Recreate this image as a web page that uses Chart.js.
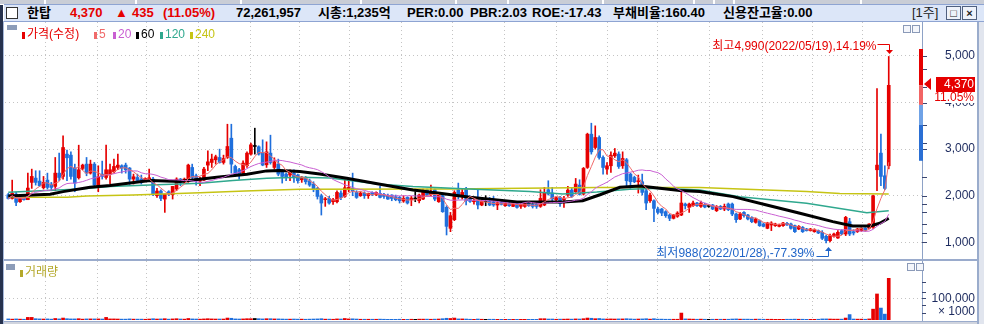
<!DOCTYPE html>
<html lang="ko">
<head>
<meta charset="utf-8">
<title>한탑 주봉</title>
<script src="https://cdn.jsdelivr.net/npm/chart.js@4.4.1/dist/chart.umd.min.js"></script>
<style>
  html, body { margin: 0; padding: 0; }
  body { width: 984px; height: 324px; overflow: hidden; position: relative; background: #fff;
         font-family: 'Liberation Sans', 'Noto Sans CJK KR', sans-serif; }
  .abs { position: absolute; }
  #tabs { left: 0; top: 0; width: 984px; height: 4px; background: #c9cdd6; }
  .gap { position: absolute; top: 0; width: 2px; height: 4px; background: #fff; }
  #hdr { left: 4px; top: 4px; width: 980px; height: 16px; background: #dce6f8;
         border-top: 1px solid #8ea4d2; border-bottom: 1px solid #8ea4d2; z-index: 3; }
  .h { position: absolute; top: 0; font-size: 13px; font-weight: bold; line-height: 16px; white-space: nowrap; color: #000; }
  .red { color: #e60000; }
  .btn { position: absolute; top: 1px; width: 13px; height: 12px; border: 1px solid #50607e; background: #eef2fa;
         font-size: 11px; line-height: 12px; text-align: center; font-weight: bold; color: #222; }
  .leg { position: absolute; font-size: 12px; line-height: 14px; white-space: nowrap; z-index: 3; }
  .mk { display: inline-block; width: 3px; height: 7px; margin-right: 2px; vertical-align: -1px; }
  .mini { position: absolute; width: 6px; height: 6px; border: 1px solid #8b9ab8; background: #f4f6fb; z-index: 3; }
  canvas { position: absolute; left: 0; z-index: 1; }
  .line { position: absolute; z-index: 2; }
</style>
</head>
<body>
<div id="tabs" class="abs"></div>
<div id="hdr" class="abs">
  <div class="abs" style="left:2px;top:2px;width:10px;height:10px;background:#fff;border:1px solid #333;"></div>
  <span class="h" style="left:23px;">한탑</span>
  <span class="h red" style="left:66px;">4,370</span>
  <span class="h red" style="left:111px;">▲</span>
  <span class="h red" style="left:128px;">435</span>
  <span class="h red" style="left:159px;">(11.05%)</span>
  <span class="h" style="left:232px;">72,261,957</span>
  <span class="h" style="left:314px;">시총:1,235억</span>
  <span class="h" style="left:403px;">PER:0.00</span>
  <span class="h" style="left:466px;">PBR:2.03</span>
  <span class="h" style="left:528px;">ROE:-17.43</span>
  <span class="h" style="left:609px;">부채비율:160.40</span>
  <span class="h" style="left:719px;">신용잔고율:0.00</span>
  <span class="h" style="left:908px;font-weight:normal;color:#222;">[1주]</span>
  <div class="btn" style="left:942px;">□</div>
  <div class="btn" style="left:958px;">×</div>
</div>

<div class="line" style="left:0;top:5px;width:3px;height:319px;background:#26324e;"></div>
<div class="line" style="left:3px;top:21px;width:1px;height:303px;background:#a6b8da;"></div>
<div class="line" style="left:977px;top:21px;width:2px;height:303px;background:#9aaccc;"></div>
<div class="line" style="left:979px;top:21px;width:5px;height:303px;background:#e1e5ee;"></div>
<div class="line" style="left:4px;top:259px;width:973px;height:2px;background:#9aabcc;"></div>
<div class="line" style="left:4px;top:321px;width:973px;height:1px;background:#9aabcc;"></div>
<div class="line" style="left:4px;top:322px;width:973px;height:2px;background:#d0d4de;"></div>

<div class="line" style="left:7px;top:25px;width:10px;height:5px;background:#8c9cb8;"></div>
<div class="leg" style="left:22px;top:27px;color:#e60000;"><span class="mk" style="background:#e60000"></span>가격(수정)</div>
<div class="leg" style="left:94px;top:27px;color:#f06a6a;"><span class="mk" style="background:#f06a6a"></span>5</div>
<div class="leg" style="left:113px;top:27px;color:#c95fd2;"><span class="mk" style="background:#c95fd2"></span>20</div>
<div class="leg" style="left:136px;top:27px;color:#000;"><span class="mk" style="background:#000"></span>60</div>
<div class="leg" style="left:160px;top:27px;color:#2fa88e;"><span class="mk" style="background:#2fa88e"></span>120</div>
<div class="leg" style="left:190px;top:27px;color:#c6c414;"><span class="mk" style="background:#c6c414"></span>240</div>
<div class="mini" style="left:903px;top:25px;"></div>
<div class="mini" style="left:912px;top:25px;"></div>

<div class="line" style="left:6px;top:264px;width:9px;height:6px;background:#8c9cb8;"></div>
<div class="leg" style="left:20px;top:265px;color:#b4a82a;"><span class="mk" style="background:#b4a82a"></span>거래량</div>
<div class="mini" style="left:907px;top:263px;"></div>
<div class="mini" style="left:916px;top:263px;"></div>

<canvas id="price" width="984" height="317" style="top:-18px;"></canvas>
<canvas id="vol" width="984" height="99" style="top:241px;"></canvas>

<script>
// 주봉 시가/고가/저가/종가 (원)
const open = [2021,1942,2035,1871,1957,1914,2286,2378,2314,2171,2335,2250,2200,2485,2414,2893,2871,2593,2385,2586,
  2678,2485,2678,2214,2464,2392,2464,2514,2607,2643,2657,2593,2357,2392,2357,2321,2342,2357,2000,2100,
  1928,2085,2021,2143,2357,2286,2321,2607,2428,2314,2335,2657,2714,2771,2821,2714,2821,3235,2628,2557,
  2485,2643,2893,3057,3050,2928,2664,2914,2607,2678,2514,2464,2443,2485,2443,2342,2371,2321,2250,2157,
  2000,1914,1942,1871,1871,2057,1985,2128,2157,2071,2000,2057,2000,2071,2021,2050,2028,2007,2014,1978,
  1964,1885,1964,1914,1928,1892,1928,2128,2021,2128,1871,2000,1750,1300,1485,2128,1985,2143,1942,1871,
  1928,1800,1871,1892,1871,1800,1871,1785,1843,1771,1843,1771,1771,1843,1814,1821,1771,1800,2128,2057,
  1914,1964,1914,2014,2121,2085,2228,2035,2607,3321,3035,3250,2821,2571,2643,2857,2893,2643,2771,2464,
  2392,2300,2300,2107,1892,1892,1714,1714,1657,1585,1514,1557,1585,1821,1750,1785,1843,1771,1814,1771,
  1800,1678,1771,1714,1821,1821,1607,1500,1642,1585,1535,1428,1464,1393,1300,1371,1357,1342,1357,1407,
  1393,1357,1285,1321,1285,1250,1228,1250,1214,1128,1035,1128,1092,1250,1178,1442,1228,1228,1250,1300,
  1300,1321,2557,2914,2428,2643];
const high = [2050,2335,2071,1970,1965,2485,2571,2536,2536,2414,2485,2286,2821,2914,3286,2978,2942,2678,3085,2678,
  2821,2764,2714,2643,2743,3085,2678,2786,2893,2664,2700,2607,2464,2464,2443,2385,2571,2392,2157,2128,
  2035,2107,2200,2385,2371,2380,2678,2678,2464,2392,2607,2964,2893,2871,3000,2871,3535,3535,2657,2586,
  2750,2942,3128,3450,3071,3200,3157,3300,2814,2786,2557,2485,2557,2557,2464,2414,2414,2357,2300,2178,
  2035,1964,1985,1942,2107,2107,2392,2371,2485,2107,2085,2085,2057,2085,2085,2200,2050,2035,2021,2014,
  1985,2000,1978,1985,2085,2035,2143,2143,2228,2143,2035,2057,1785,1642,2107,2271,2143,2178,2000,1942,
  2157,1914,2000,1964,1985,1871,1914,1892,1857,1843,1871,1843,1871,1871,1843,1843,2128,2178,2321,2178,
  1970,1985,1985,2200,2157,2371,2342,2607,3343,3557,3500,3286,2857,2714,2942,3014,2942,2942,2800,2485,
  2420,2443,2464,2143,2057,1914,1750,1728,1678,1607,1600,1657,2128,1843,1843,1885,1857,1885,1840,1800,
  1814,1790,1790,1821,1843,1843,1628,1642,1660,1600,1550,1520,1480,1410,1430,1442,1410,1390,1430,1430,
  1410,1370,1360,1340,1300,1300,1290,1265,1250,1157,1178,1200,1250,1270,1557,1514,1271,1300,1314,1314,
  1400,2014,4300,3321,2643,4990];
const low = [1928,1928,1785,1857,1905,1914,2157,2228,2200,2143,2143,2107,2107,2321,2357,2321,2357,2085,2357,2557,
  2428,2464,2200,2085,2357,2357,2250,2485,2557,2485,2485,2242,2250,2286,2250,2300,2321,2000,1964,1892,
  1642,2000,1928,2107,2214,2270,2286,2357,2228,2214,2321,2536,2607,2678,2700,2678,2800,2485,2414,2357,
  2443,2607,2871,2893,2871,2643,2607,2678,2571,2428,2271,2321,2321,2286,2271,2286,2250,2200,2085,1928,
  1585,1771,1821,1814,1843,1914,1964,2085,2000,1942,1985,1942,1942,2000,2000,1950,1942,1920,1892,1892,
  1843,1857,1821,1785,1871,1843,1914,1985,2000,1892,1857,1642,1157,1228,1464,1928,1928,1800,1857,1821,
  1714,1785,1785,1785,1771,1700,1800,1771,1771,1764,1735,1728,1750,1771,1735,1728,1750,1785,2014,1892,
  1892,1771,1750,1985,1964,2071,2014,2014,2586,2893,3000,2786,2464,2464,2500,2821,2586,2586,2214,2157,
  2280,2057,2014,1700,1857,1442,1607,1571,1535,1464,1500,1535,1571,1714,1642,1771,1771,1750,1740,1750,
  1700,1660,1700,1678,1678,1571,1428,1485,1540,1480,1420,1410,1340,1330,1290,1250,1340,1330,1340,1360,
  1280,1210,1270,1210,1240,1240,1215,1185,1057,988,1010,1110,1085,1165,1143,1143,1157,1210,1235,1240,
  1285,1300,2107,2214,2128,2577];
const close = [1942,2050,1857,1957,1914,2164,2414,2286,2214,2286,2178,2178,2485,2392,3035,2814,2414,2271,2557,2657,
  2485,2678,2228,2407,2414,2557,2557,2628,2657,2593,2557,2357,2407,2328,2300,2371,2385,2021,2100,1942,
  2035,2035,2200,2357,2286,2357,2657,2392,2321,2371,2571,2728,2786,2836,2714,2800,3057,2678,2464,2443,
  2700,2914,3093,3057,2893,2657,2942,2714,2728,2464,2414,2392,2514,2385,2321,2371,2300,2228,2128,1985,
  1843,1928,1843,1914,2071,1964,2171,2178,2107,1964,2057,2000,2050,2021,2071,1964,1985,1928,1942,1914,
  1892,1942,1843,1950,1928,2014,2085,2014,2085,1928,2014,1657,1342,1571,2071,2000,2071,1892,1878,1892,
  1800,1885,1871,1800,1800,1850,1814,1857,1785,1828,1750,1821,1835,1785,1771,1771,1942,2071,2035,1928,
  1957,1835,1942,2121,1985,2250,2028,2586,3321,2942,3250,2821,2607,2643,2871,2914,2628,2800,2321,2300,
  2300,2314,2071,1843,2014,1728,1642,1628,1571,1514,1585,1628,1843,1785,1821,1843,1785,1843,1757,1771,
  1714,1771,1714,1771,1700,1607,1485,1607,1571,1500,1442,1500,1357,1342,1414,1414,1393,1371,1414,1371,
  1300,1228,1342,1228,1250,1285,1271,1200,1085,1035,1143,1178,1214,1178,1535,1178,1200,1285,1300,1250,
  1393,2000,2657,2414,2157,4370];
// 거래량 (천주)
const volume = [5000,4000,5000,4000,3500,12000,12000,6000,5000,4500,
  5000,4000,7000,5000,9000,6000,5000,5000,6000,4000,
  5000,5000,5000,5000,4500,12000,5000,5000,4500,4000,
  4000,5000,4000,4000,4000,3500,4500,6000,4500,5000,
  6000,4000,5000,6000,4500,4000,7000,5000,4500,4000,
  5000,6000,5000,4500,4500,4500,9000,8000,5000,4500,
  5000,6000,6000,7000,6000,5000,6000,6000,5000,5000,
  4500,4000,4000,4500,4000,4000,3500,4000,4500,5000,
  6000,4000,4000,3500,5000,4500,7000,5000,5500,4500,
  3500,3500,3500,3500,3500,4000,3500,3000,3000,3000,
  3500,3000,3000,3500,3000,4000,4000,4000,3500,4000,
  4500,6000,8000,7000,9000,5000,5000,4500,3500,3000,
  4500,3500,3000,3500,3500,3000,3000,3000,3000,3000,
  3000,3000,3000,3000,3000,3000,6000,6000,4500,4500,
  3500,4000,4000,4500,4000,5000,4500,6000,9000,8000,
  6000,7000,5000,4500,5000,4500,5000,5000,6000,5000,
  4000,4500,5000,6000,4000,6000,4000,4000,3500,3500,
  3500,3500,32000,5000,4500,4000,3500,4000,3500,3000,
  3500,3500,3500,3500,3500,4500,5000,4000,4000,4000,
  3500,4000,4000,3500,3500,3500,3000,3000,3000,3500,
  3500,4000,3500,3500,3000,3000,3000,3500,5000,5000,
  4500,4000,4000,4000,9000,25000,4500,4000,4000,3500,
  5000,50000,120000,55000,27000,192000];

// 장기 이동평균 (그림에서 읽은 값, 봉 번호 기준)
const ma60At = [0,10.7,14,20.9,26,36.2,43.9,53.3,61,66,69.4,74.5,79.6,86.5,95,103.4,110.3,118,124.9,130,141.7,146.8,151.2,156.3,161.4,166.5,171.6,176.7,185.2,193.8,202.3,210.7,215.8,220.2,222.7,225];
const ma60 = [1995,2032,2088,2182,2217,2324,2303,2398,2462,2533,2540,2518,2468,2376,2247,2124,2053,1967,1909,1866,1866,1894,2020,2180,2210,2161,2110,2088,1980,1802,1623,1443,1350,1350,1408,1516];
const ma120At = [0,18.3,26,36.2,49,57.4,66.1,74.5,82.2,95,103.4,116.2,133.3,141.7,150.4,158.8,166.5,176.7,186.9,204,219.4,225];
const ma120 = [2075,2146,2196,2232,2268,2324,2376,2398,2380,2247,2196,2152,2088,2039,2081,2140,2160,2124,1980,1838,1636,1679];
const ma240At = [0,15,20.1,31.9,49,60.5,74.5,112.8,150.4,176.7,193.8,204,212.5,225];
const ma240 = [1967,1967,1995,2017,2066,2103,2140,2145,2175,2174,2124,2088,2045,2035];

// 분기 구분선 위치 (봉 번호)
const gridAt = [9.4,22.7,35.4,48.5,61.8,74.5,87.3,100.6,113.6,126.9,140.2,153.2,165.9,179.3,192.8,205.6,218.4];
const priceTicks = [1000,2000,3000,4000,5000];
const priceMinor = [1210,1400,1640,1820,2400,3140,3520,4330,4720];
const volTicks = [100000];
const volMinor = [30000,70000,130000,175000];

// 가격대별 막대 (원)
const bandEdges = [5150,4370,3950,3520,2750];
const bandColors = ['#e60000','#f26464','#6fa2e6','#2a6fd4'];

const changePct = '11.05%';
const hiDate = '2022/05/19', hiPct = '14.19%';
const loDate = '2022/01/28', loPct = '-77.39%';

const RED = '#e60000', BLUE = '#1f6fdc';
const candleColor = close.map((c, i) => c > open[i] ? RED : (c < open[i] ? BLUE : '#000'));

function movingAvg(n) {
  return close.map((_, i) => {
    const s = close.slice(Math.max(0, i - n + 1), i + 1);
    return { x: i, y: s.reduce((a, b) => a + b, 0) / s.length };
  });
}
const pts = (at, vals) => at.map((x, i) => ({ x: x, y: vals[i] }));
const maLine = (data, color, w) => ({ type: 'line', data: data, borderColor: color, borderWidth: w,
  pointRadius: 0, tension: 0, order: 0 });

const X_MIN = -0.84, X_MAX = 233.5;
const gridColor = '#c4c4c4';
const axisFont = { family: "'Liberation Sans'", size: 12 };

// 두 차트가 같은 객체를 공유하지 않도록 매번 새로 만든다
const makeXAxis = () => ({
  type: 'linear', min: X_MIN, max: X_MAX, offset: false,
  afterBuildTicks: s => { s.ticks = gridAt.map(v => ({ value: v })); },
  afterFit: s => { s.height = 0; },
  ticks: { display: false },
  grid: { color: gridColor, drawTicks: false, offset: false },
  border: { display: false, dash: [1, 3] }
});

const priceExtras = {
  id: 'priceExtras',
  afterDraw(chart) {
    const { ctx, chartArea: a, scales: { x, y } } = chart;
    ctx.save();
    // 오른쪽 보조 눈금
    ctx.strokeStyle = '#3a4670';
    ctx.lineWidth = 1;
    priceTicks.concat(priceMinor).forEach(v => {
      const py = Math.round(y.getPixelForValue(v)) + 0.5;
      ctx.beginPath(); ctx.moveTo(a.right, py); ctx.lineTo(a.right + 5, py); ctx.stroke();
    });
    // 가격대 막대
    for (let i = 0; i < bandColors.length; i++) {
      const y0 = y.getPixelForValue(bandEdges[i]);
      const y1 = y.getPixelForValue(bandEdges[i + 1]);
      ctx.fillStyle = bandColors[i];
      ctx.fillRect(a.right - 3, y0, 4, y1 - y0);
    }
    // 현재가 꼬리표
    const last = close.length - 1;
    const cy = Math.round(y.getPixelForValue(close[last])) - 1;
    ctx.fillStyle = RED;
    ctx.beginPath();
    ctx.moveTo(a.right + 2, cy); ctx.lineTo(a.right + 9, cy - 6); ctx.lineTo(a.right + 9, cy + 6);
    ctx.closePath(); ctx.fill();
    ctx.fillRect(a.right + 14, cy - 7, 39, 15);
    ctx.fillStyle = '#fff';
    ctx.fillRect(a.right + 14, cy + 8, 39, 11);
    ctx.font = "12px 'Liberation Sans'";
    ctx.textAlign = 'right';
    ctx.textBaseline = 'middle';
    ctx.fillText(close[last].toLocaleString('en-US'), a.right + 52, cy + 1);
    ctx.fillStyle = RED;
    ctx.fillText(changePct, a.right + 52, cy + 14);

    // 최고 / 최저 표시
    ctx.font = "12px 'Liberation Sans', 'Noto Sans CJK KR'";
    const hi = high.indexOf(Math.max(...high));
    const hx = Math.round(x.getPixelForValue(hi)) + 0.5;
    const hy = Math.round(y.getPixelForValue(high[hi]));
    ctx.strokeStyle = RED; ctx.fillStyle = RED;
    ctx.beginPath(); ctx.moveTo(hx - 12, hy - 11.5); ctx.lineTo(hx, hy - 11.5); ctx.lineTo(hx, hy - 5); ctx.stroke();
    ctx.beginPath(); ctx.moveTo(hx - 3.5, hy - 6); ctx.lineTo(hx + 3.5, hy - 6); ctx.lineTo(hx, hy - 2); ctx.closePath(); ctx.fill();
    ctx.fillText('최고' + high[hi].toLocaleString('en-US') + '(' + hiDate + '),' + hiPct, hx - 13, hy - 9);

    const lo = low.indexOf(Math.min(...low));
    const lx = Math.round(x.getPixelForValue(lo)) + 2.5;
    const ly = Math.round(y.getPixelForValue(low[lo]));
    ctx.strokeStyle = '#1f64c8'; ctx.fillStyle = '#1f64c8';
    ctx.beginPath(); ctx.moveTo(lx - 12, ly + 13.5); ctx.lineTo(lx, ly + 13.5); ctx.lineTo(lx, ly + 7); ctx.stroke();
    ctx.beginPath(); ctx.moveTo(lx - 3.5, ly + 8); ctx.lineTo(lx + 3.5, ly + 8); ctx.lineTo(lx, ly + 4); ctx.closePath(); ctx.fill();
    ctx.fillText('최저' + low[lo].toLocaleString('en-US') + '(' + loDate + '),' + loPct, lx - 14, ly + 10.5);
    ctx.restore();
  }
};

// 눈금 글자 여백이 그림 영역을 밀어내지 않도록 바깥 여백을 넉넉히 준다 (캔버스를 그만큼 위로 올림)
new Chart(document.getElementById('price'), {
  type: 'bar',
  data: {
    datasets: [
      maLine(movingAvg(5), '#f06a6a', 1),
      maLine(movingAvg(20), '#c95fd2', 1),
      maLine(pts(ma60At, ma60), '#000', 3),
      maLine(pts(ma120At, ma120), '#2fa88e', 1.5),
      maLine(pts(ma240At, ma240), '#c6c414', 1.5),
      { type: 'bar', order: 1, grouped: false, barThickness: 3, minBarLength: 1,
        data: close.map((c, i) => ({ x: i, y: [Math.min(open[i], c), Math.max(open[i], c)] })),
        backgroundColor: candleColor },
      { type: 'bar', order: 2, grouped: false, barThickness: 1,
        data: close.map((c, i) => ({ x: i, y: [low[i], high[i]] })),
        backgroundColor: candleColor }
    ]
  },
  options: {
    responsive: false, animation: false, devicePixelRatio: 1,
    layout: { padding: { left: 5, right: 9, top: 40, bottom: 40 } },
    plugins: { legend: { display: false }, tooltip: { enabled: false } },
    scales: {
      x: makeXAxis(),
      y: {
        position: 'right', min: 641, max: 5730,
        afterBuildTicks: s => { s.ticks = priceTicks.map(v => ({ value: v })); },
        afterFit: s => { s.width = 53; },
        ticks: { crossAlign: 'far', padding: 22, color: '#1c2a5e', font: axisFont,
                 callback: v => v.toLocaleString('en-US') },
        grid: { color: gridColor, drawTicks: false },
        border: { color: '#8ea2c6', width: 1, dash: [1, 3] }
      }
    }
  },
  plugins: [priceExtras]
});

const volExtras = {
  id: 'volExtras',
  afterDraw(chart) {
    const { ctx, chartArea: a, scales: { y } } = chart;
    ctx.save();
    ctx.strokeStyle = '#3a4670';
    ctx.lineWidth = 1;
    volTicks.concat(volMinor).forEach(v => {
      const py = Math.round(y.getPixelForValue(v)) + 0.5;
      ctx.beginPath(); ctx.moveTo(a.right, py); ctx.lineTo(a.right + 4, py); ctx.stroke();
    });
    ctx.font = "12px 'Liberation Sans'";
    ctx.fillStyle = '#1c2a5e';
    ctx.textAlign = 'right';
    ctx.textBaseline = 'middle';
    ctx.fillText('× 1000', a.right + 53, y.getPixelForValue(volTicks[0]) + 13);
    ctx.restore();
  }
};

new Chart(document.getElementById('vol'), {
  type: 'bar',
  data: {
    datasets: [{
      data: volume.map((v, i) => ({ x: i, y: v })),
      backgroundColor: candleColor, barThickness: 3, grouped: false
    }]
  },
  options: {
    responsive: false, animation: false, devicePixelRatio: 1,
    layout: { padding: { left: 5, right: 9, top: 20, bottom: 20 } },
    plugins: { legend: { display: false }, tooltip: { enabled: false } },
    scales: {
      x: makeXAxis(),
      y: {
        position: 'right', min: 0, max: 272000,
        afterBuildTicks: s => { s.ticks = volTicks.map(v => ({ value: v })); },
        afterFit: s => { s.width = 53; },
        ticks: { crossAlign: 'far', padding: 10, color: '#1c2a5e', font: axisFont,
                 callback: v => v.toLocaleString('en-US') },
        grid: { color: gridColor, drawTicks: false },
        border: { color: '#8ea2c6', width: 1, dash: [1, 3] }
      }
    }
  },
  plugins: [volExtras]
});

// 상단 탭 줄 틈
[44, 135, 240, 360, 455, 507, 602, 693, 713, 733, 860].forEach(g => {
  const d = document.createElement('div');
  d.className = 'gap';
  d.style.left = g + 'px';
  document.getElementById('tabs').appendChild(d);
});
</script>
</body>
</html>
